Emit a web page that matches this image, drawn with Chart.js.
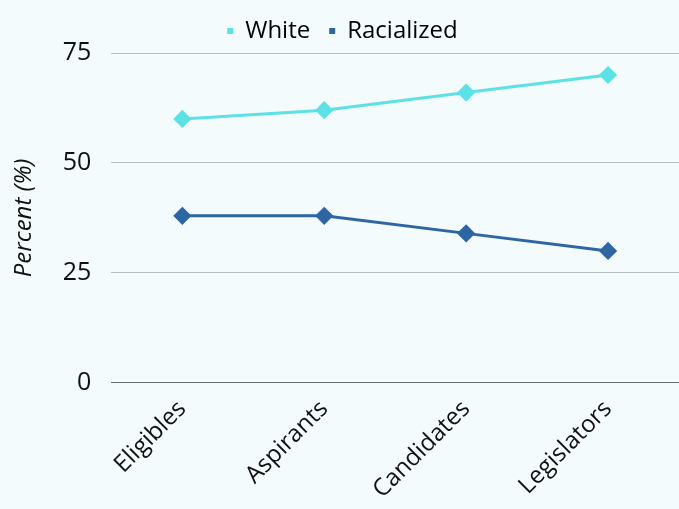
<!DOCTYPE html>
<html>
<head>
<meta charset="utf-8">
<script src="https://cdn.jsdelivr.net/npm/chart.js@4"></script>
<style>
  html, body { margin: 0; padding: 0; background: #f3fbfc; overflow: hidden; }
  #wrap { width: 679px; height: 508px; }
</style>
</head>
<body>
<div id="wrap"><canvas id="canvas"></canvas></div>
<script>
const labels = ['Eligibles', 'Aspirants', 'Candidates', 'Legislators']
const white = [60, 62, 66, 70]
const racialized = [38, 38, 34, 30]
const yTicks = [0, 25, 50, 75]

const font = 'Open Sans'

const data = {
  labels: labels,
  datasets: [
    {
      label: 'White',
      backgroundColor: '#5ce1e6',
      borderColor: '#5ce1e6',
      data: white,
      borderWidth: 3,
      pointStyle: 'rectRot',
      pointRadius: 7,
      pointHoverRadius: 7,
    },
    {
      label: 'Racialized',
      backgroundColor: '#2e66a3',
      borderColor: '#2e66a3',
      data: racialized,
      borderWidth: 3,
      pointStyle: 'rectRot',
      pointRadius: 7,
      pointHoverRadius: 7,
    },
  ],
}

const config = {
  type: 'line',
  data: data,
  options: {
    responsive: true,
    maintainAspectRatio: false,
    animation: false,
    layout: { autoPadding: false, padding: { top: 0, right: 0, left: 6 } },
    plugins: {
      legend: {
        labels: {
          font: { family: font, size: 24 },
          color: '#111',
          usePointStyle: true,
          pointStyle: 'rect',
          boxWidth: 6,
          boxHeight: 6,
          padding: 19,
          generateLabels: (chart) => chart.data.datasets.map((ds, i) => ({
            text: ds.label,
            fillStyle: ds.borderColor,
            strokeStyle: ds.borderColor,
            lineWidth: 0,
            pointStyle: 'rect',
            datasetIndex: i,
          })),
        },
      },
      tooltip: { enabled: false },
    },
    scales: {
      x: {
        offset: true,
        grid: { display: false },
        border: { display: false },
        ticks: {
          font: { family: font, size: 24 },
          color: '#111',
          maxRotation: 45,
          minRotation: 45,
          padding: 4,
        },
      },
      y: {
        min: 0,
        max: 75,
        afterBuildTicks: (axis) => { axis.ticks = yTicks.map(v => ({ value: v })) },
        grid: {
          color: (ctx) => ctx.tick && ctx.tick.value === 0 ? '#6b6e70' : '#b9bdbf',
          lineWidth: 1,
          drawTicks: false,
        },
        border: { display: false },
        ticks: {
          font: { family: font, size: 25 },
          color: '#111',
          padding: 20,
        },
        title: {
          display: true,
          text: 'Percent (%)',
          font: { family: font, size: 24, style: 'italic' },
          color: '#111',
        },
      },
    },
  },
}

const canvas = document.getElementById('canvas')
const chart = new Chart(canvas, config)
</script>
</body>
</html>
